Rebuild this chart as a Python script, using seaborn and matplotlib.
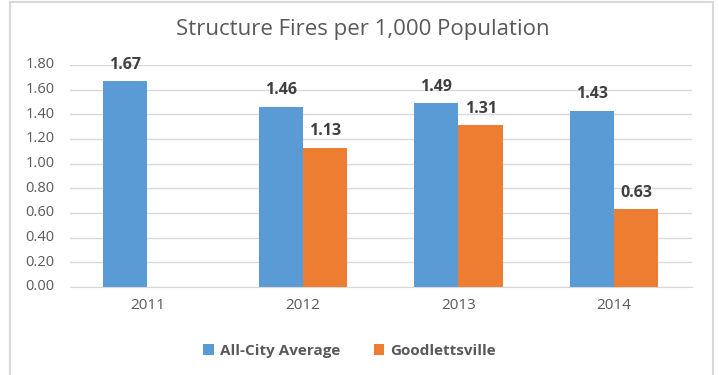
import pandas as pd
import numpy as np
import matplotlib.pyplot as plt
import matplotlib.transforms as mtransforms
import seaborn as sns
from matplotlib.patches import Rectangle

# chart data
years = ["2011", "2012", "2013", "2014"]
all_city = [1.67, 1.46, 1.49, 1.43]
goodlettsville = [np.nan, 1.13, 1.31, 0.63]
series_names = ["All-City Average", "Goodlettsville"]
colors = ["#5b9bd5", "#ed7d31"]
y_ticks = [0.0, 0.2, 0.4, 0.6, 0.8, 1.0, 1.2, 1.4, 1.6, 1.8]

df = pd.DataFrame({
    "year": years * 2,
    "series": [series_names[0]] * 4 + [series_names[1]] * 4,
    "value": all_city + goodlettsville,
})

sns.set_style("white")
plt.rcParams["font.family"] = ["Open Sans", "DejaVu Sans"]
text_color = "#595959"

fig = plt.figure(figsize=(7.19, 3.75), dpi=100)
ax = fig.add_axes([0.097, 0.235, 0.865, 0.592])

sns.barplot(data=df, x="year", y="value", hue="series", order=years,
            hue_order=series_names, palette=colors, width=0.57,
            saturation=1, linewidth=0, ax=ax, legend=True)

ax.set_ylim(0, 1.8)
ax.set_yticks(y_ticks)
ax.set_yticklabels([])
ax.yaxis.grid(True, color="#d9d9d9", linewidth=1)
ax.set_axisbelow(True)
for side in ["left", "right", "top"]:
    ax.spines[side].set_visible(False)
ax.spines["bottom"].set_color("#d9d9d9")
ax.tick_params(axis="both", length=0, colors=text_color)
ax.tick_params(axis="x", labelsize=11, pad=8)
ax.set_xlabel("")
ax.set_ylabel("")

# y tick labels, set a little away from the gridlines
ytrans = mtransforms.blended_transform_factory(ax.transAxes, ax.transData)
for t in y_ticks:
    ax.text(-0.024, t, f"{t:.2f}", transform=ytrans, ha="right", va="center",
            fontsize=10.5, color=text_color)

# data labels
for cont in ax.containers:
    labels = ["" if np.isnan(v) else f"{v:.2f}" for v in cont.datavalues]
    ax.bar_label(cont, labels=labels, padding=6, fontsize=11.5,
                 fontweight="bold", color="#404040")

# title centred on the whole chart
fig.text(0.505, 0.92, "Structure Fires per 1,000 Population", fontsize=16,
         color=text_color, ha="center", va="center")

handles, lbls = ax.get_legend_handles_labels()
ax.legend(handles, lbls, loc="upper center", bbox_to_anchor=(0.45, -0.195),
          ncol=2, frameon=False, handlelength=0.7,
          handleheight=0.7, columnspacing=2.2, handletextpad=0.4,
          prop={"weight": "bold", "size": 11})
for t in ax.get_legend().get_texts():
    t.set_color(text_color)

# outer chart frame (open at the bottom, like the cropped screenshot)
fig.patches.append(Rectangle((10 / 719, -0.05), 703 / 719, 1.045, transform=fig.transFigure,
                             fill=False, edgecolor="#d9d9d9", linewidth=1.5))

fig.savefig("out.png", dpi=100, facecolor="white")
